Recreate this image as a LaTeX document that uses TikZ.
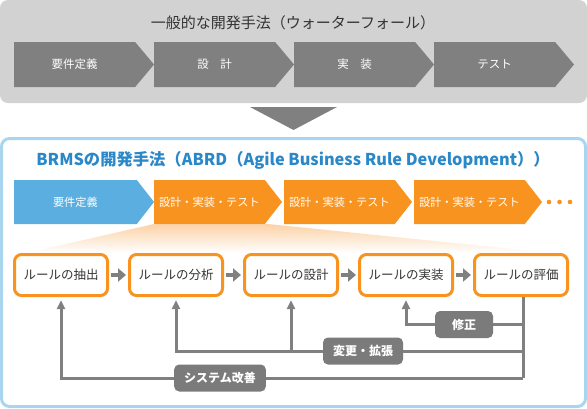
\documentclass[tikz,border=0pt]{standalone}
\usepackage{fontspec}
\setmainfont{Noto Sans CJK JP}
\usepackage{xcolor}
\usetikzlibrary{arrows.meta,positioning,shapes.symbols,calc}

\definecolor{panelgray}{HTML}{D2D2D2}
\definecolor{stepgray}{HTML}{808080}
\definecolor{panelblue}{HTML}{A9D5EF}
\definecolor{titleblue}{HTML}{2A88C9}
\definecolor{reqblue}{HTML}{5AAEE0}
\definecolor{abrdorange}{HTML}{F7931E}
\definecolor{fanorange}{HTML}{FCD2A6}
\definecolor{linegray}{HTML}{808080}
\definecolor{loopgray}{HTML}{7B7B7B}
\definecolor{textdark}{HTML}{333333}

\begin{document}
\begin{tikzpicture}[
  x=1pt, y=-1pt,
  node distance=19pt,
  wfstep/.style={signal, signal to=east, signal pointer angle=100, fill=stepgray, text=white,
    font=\fontsize{11.5}{14}\selectfont, minimum height=45pt, minimum width=140pt, inner sep=0pt, outer sep=0pt},
  abrdstep/.style={signal, signal to=east, signal pointer angle=104, fill=abrdorange, text=white,
    font=\fontsize{11.2}{14}\selectfont, minimum height=44pt, minimum width=128pt, inner sep=0pt, outer sep=0pt},
  rulebox/.style={draw=abrdorange, line width=3pt, rounded corners=7pt, fill=white, text=textdark,
    minimum width=93pt, minimum height=41pt, font=\fontsize{12.5}{14}\selectfont},
  loopbox/.style={fill=loopgray, rounded corners=5pt, text=white, font=\bfseries\fontsize{12}{14}\selectfont,
    minimum height=27pt, minimum width=58pt, inner xsep=10pt},
  arrow/.style={-{Triangle[length=8pt,width=13pt]}, line width=4pt, draw=linegray, shorten <=2pt, shorten >=2pt},
  backline/.style={line width=3pt, draw=linegray},
  backarrow/.style={backline, -{Triangle[length=9pt,width=8pt]}, shorten >=3pt}
]
  \useasboundingbox (0,0) rectangle (587,408);

  \fill[panelgray, rounded corners=8pt] (0,0) rectangle (587,103);
  \node[font=\fontsize{15}{18}\selectfont, text=textdark] (wftitle) at (293,23) {一般的な開発手法（ウォーターフォール）};
  \node[wfstep, anchor=west] (wfreq) at (14,64.5) {要件定義};
  \node[wfstep, right=0pt of wfreq] (wfdesign) {設　計};
  \node[wfstep, right=0pt of wfdesign] (wfimpl) {実　装};
  \node[wfstep, right=0pt of wfimpl] (wftest) {テスト};

  \fill[stepgray] (250,107) -- (337,107) -- (293.5,130) -- cycle;

  \draw[panelblue, line width=3pt, fill=white, rounded corners=8pt] (1.5,138.5) rectangle (585.5,406.5);
  \node[font=\bfseries\fontsize{16.3}{19}\selectfont, text=titleblue] (abrdtitle) at (293,160) {BRMSの開発手法（ABRD（Agile Business Rule Development））};

  \node[abrdstep, fill=reqblue, minimum width=140pt, anchor=west] (abrdreq) at (14,202) {要件定義};
  \node[abrdstep, right=0pt of abrdreq] (cycle1) {設計・実装・テスト};
  \node[abrdstep, right=2pt of cycle1] (cycle2) {設計・実装・テスト};
  \node[abrdstep, right=2pt of cycle2] (cycle3) {設計・実装・テスト};
  \foreach \d in {0,1,2}
    \fill[abrdorange] ($(cycle3.east)+(7+10.5*\d,0)$) circle (2.3pt);

  \shade[top color=fanorange, bottom color=white] (154,224) -- (268,224) -- (552,253) -- (27,253) -- cycle;

  \node[rulebox] (extract) at (61,275) {ルールの抽出};
  \node[rulebox, right=of extract] (analyze) {ルールの分析};
  \node[rulebox, right=of analyze] (design) {ルールの設計};
  \node[rulebox, right=of design] (implement) {ルールの実装};
  \node[rulebox, right=of implement] (evaluate) {ルールの評価};

  \draw[arrow] (extract) -- (analyze);
  \draw[arrow] (analyze) -- (design);
  \draw[arrow] (design) -- (implement);
  \draw[arrow] (implement) -- (evaluate);

  \coordinate (fixjoin) at ($(evaluate.south)+(2,27)$);
  \coordinate (chgjoin) at ($(evaluate.south)+(2,54)$);
  \coordinate (sysjoin) at ($(evaluate.south)+(2,81)$);

  \draw[backline] (evaluate.south -| sysjoin) -- (sysjoin);
  \draw[backarrow] (fixjoin) -| (implement.south);
  \draw[backarrow] (chgjoin) -| (analyze.south);
  \draw[backarrow] (chgjoin -| design.south) -- (design.south);
  \draw[backarrow] (sysjoin) -| (extract.south);

  \node[loopbox] (fixlbl) at (464,324.5) {修正};
  \node[loopbox] (chglbl) at (363,351) {変更・拡張};
  \node[loopbox] (syslbl) at (220,378) {システム改善};
\end{tikzpicture}
\end{document}
